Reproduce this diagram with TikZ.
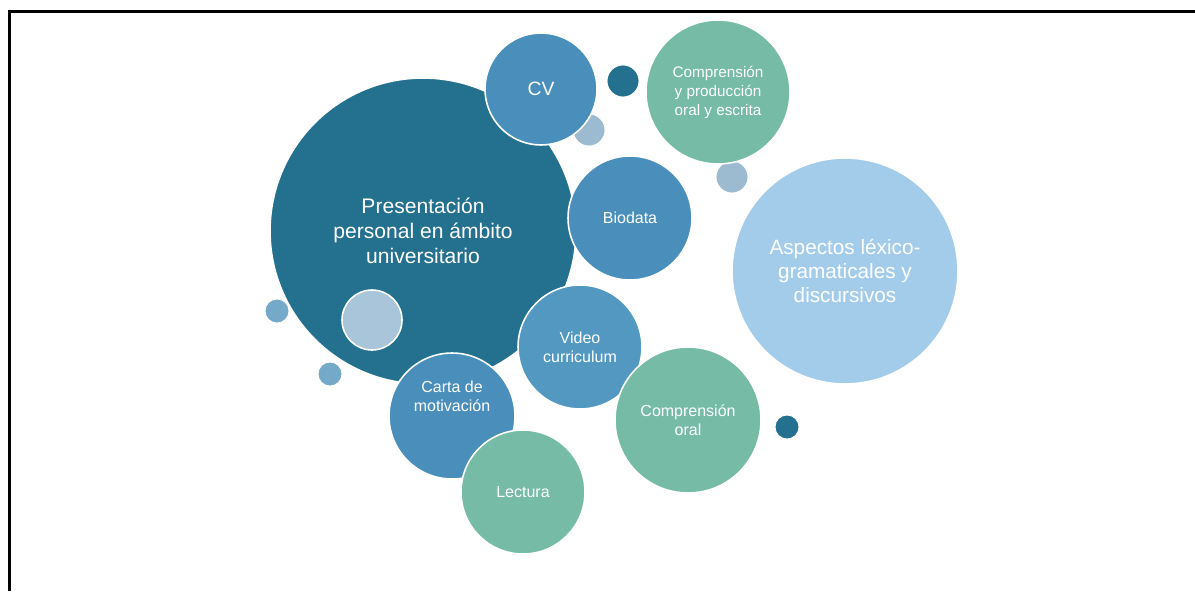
\documentclass[tikz,border=0pt]{standalone}
\usepackage{amsmath}
\usepackage{tikz}
\usepackage{xcolor}
\usepackage{fontspec}
\setmainfont{Liberation Sans}

\definecolor{tealdark}{HTML}{24708F}
\definecolor{bluemid}{HTML}{4A8FBB}
\definecolor{bluevid}{HTML}{5298C1}
\definecolor{greenmid}{HTML}{75BBA6}
\definecolor{bluepale}{HTML}{A3CCEB}
\definecolor{greyblue}{HTML}{9CBAD0}
\definecolor{greyin}{HTML}{A9C5DA}
\definecolor{bluedot}{HTML}{74A9CA}

\begin{document}
\begin{tikzpicture}[x=0.02cm,y=-0.02cm,
  bubble/.style={circle,draw=white,line width=0.9pt,text=white,align=center,inner sep=0pt},
  dot/.style={circle,draw=white,line width=0.5pt,inner sep=0pt},
  big/.style={font=\fontsize{12}{14.2}\selectfont},
  small/.style={font=\fontsize{9.1}{10.6}\selectfont},
  tiny/.style={font=\fontsize{8.7}{10.8}\selectfont}]
\useasboundingbox (0,0) rectangle (1195,591);
\draw[line width=0.06cm] (9.5,591) -- (9.5,11.5) -- (1195,11.5);

\node[bubble,big,fill=tealdark,minimum size=6.12cm] (pres) at (423,231) {Presentación\\personal en ámbito\\universitario};
\node[dot,fill=greyin,minimum size=1.2cm,line width=0.9pt] (inner) at (372,320) {};
\node[dot,fill=bluedot,minimum size=0.48cm] (dotl) at (277,311) {};
\node[dot,fill=bluedot,minimum size=0.48cm] (dotb) at (330,374) {};
\node[dot,fill=greyblue,minimum size=0.64cm] (dotcv) at (589,130) {};
\node[bubble,fill=bluemid,minimum size=2.24cm,font=\fontsize{11}{13}\selectfont] (cv) at (541,89) {CV};
\node[dot,fill=tealdark,minimum size=0.64cm] (dott) at (623,81) {};
\node[dot,fill=greyblue,minimum size=0.64cm] (dotg) at (732,177) {};
\node[bubble,tiny,fill=greenmid,minimum size=2.88cm] (cpe) at (718,92) {Comprensión\\y producción\\oral y escrita};
\node[bubble,small,fill=bluemid,minimum size=2.48cm] (bio) at (630,218) {Biodata};
\node[bubble,fill=bluepale,minimum size=4.52cm,font=\fontsize{11.8}{13.6}\selectfont] (asp) at (845,271) {Aspectos léxico-\\gramaticales y\\discursivos};
\node[bubble,small,fill=bluevid,minimum size=2.48cm] (vid) at (580,347) {Video\\curriculum};
\node[bubble,fill=bluemid,minimum size=2.52cm] (carta) at (452,416) {};
\node[small,text=white,align=center] (cartatxt) at (452,396) {Carta de\\motivación};
\node[bubble,small,fill=greenmid,minimum size=2.48cm] (lect) at (523,492) {Lectura};
\node[bubble,small,fill=greenmid,minimum size=2.92cm] (oral) at (688,420) {Comprensión\\oral};
\node[dot,fill=tealdark,minimum size=0.48cm] (dotr) at (787,427) {};
\end{tikzpicture}
\end{document}
